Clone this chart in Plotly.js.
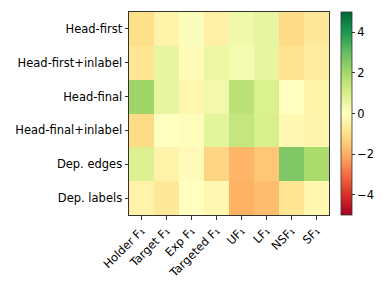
<!DOCTYPE html>
<html>
<head>
<meta charset="utf-8">
<script src="https://cdn.plot.ly/plotly-3.0.1.min.js"></script>
<style>html,body{margin:0;padding:0;background:#fff;}#chart{width:392px;height:294px;}</style>
</head>
<body>
<div id="chart"></div>
<script>
const rowLabels = ["Head-first", "Head-first+inlabel", "Head-final", "Head-final+inlabel", "Dep. edges", "Dep. labels"];
const colLabels = ["Holder F₁", "Target F₁", "Exp F₁", "Targeted F₁", "UF₁", "LF₁", "NSF₁", "SF₁"];
const headFirst        = [-1.0, -0.4,  0.1, -0.5,  0.4,  0.6, -1.1, -0.7];
const headFirstInlabel = [-0.8,  0.6, -0.1,  0.5,  0.3,  0.6, -0.9, -0.6];
const headFinal        = [ 2.1,  0.6, -0.3,  0.35, 1.6,  0.95, 0.0, -0.4];
const headFinalInlabel = [-1.1,  0.0, -0.05, 0.7,  1.4,  1.0, -0.25, -0.35];
const depEdges         = [ 0.9, -0.4, -0.15, -1.2, -1.85, -1.5, 2.6,  1.9];
const depLabels        = [-0.4, -0.7,  0.0, -0.25, -1.95, -1.7, -0.8, -0.3];
const zValues = [headFirst, headFirstInlabel, headFinal, headFinalInlabel, depEdges, depLabels];
const cbTicks = [-4, -2, 0, 2, 4];

const rdylgn = [
  [0.0, "#a50026"], [0.1, "#d73027"], [0.2, "#f46d43"], [0.3, "#fdae61"],
  [0.4, "#fee08b"], [0.5, "#ffffbf"], [0.6, "#d9ef8b"], [0.7, "#a6d96a"],
  [0.8, "#66bd63"], [0.9, "#1a9850"], [1.0, "#006837"]
];

const fnt = {family: "DejaVu Sans", size: 11.5, color: "#000"};

const trace = {
  type: "heatmap",
  z: zValues,
  x: colLabels,
  y: rowLabels,
  zmin: -5, zmax: 5,
  colorscale: rdylgn,
  xgap: 0, ygap: 0,
  colorbar: {
    x: 1.06, xanchor: "left", y: 0.5, yanchor: "middle",
    len: 1, lenmode: "fraction", thickness: 11, thicknessmode: "pixels",
    outlinecolor: "#333", outlinewidth: 0.8,
    tickvals: cbTicks, ticks: "outside", ticklen: 3, tickcolor: "#333",
    tickfont: fnt,
    xpad: 0, ypad: 0
  }
};

const layout = {
  width: 392, height: 294,
  margin: {l: 129, r: 63, t: 12, b: 79},
  paper_bgcolor: "#fff", plot_bgcolor: "#fff",
  font: fnt,
  xaxis: {
    type: "category", tickangle: -45, ticks: "outside", ticklen: 3.5, tickcolor: "#333",
    showline: true, mirror: true, linecolor: "#333", linewidth: 1, showgrid: false, zeroline: false,
    tickfont: fnt
  },
  yaxis: {
    type: "category", autorange: "reversed", ticks: "outside", ticklen: 3.5, tickcolor: "#333",
    showline: true, mirror: true, linecolor: "#333", linewidth: 1, showgrid: false, zeroline: false,
    tickfont: fnt
  },
  showlegend: false
};

Plotly.newPlot("chart", [trace], layout, {displayModeBar: false, staticPlot: true});
</script>
</body>
</html>
